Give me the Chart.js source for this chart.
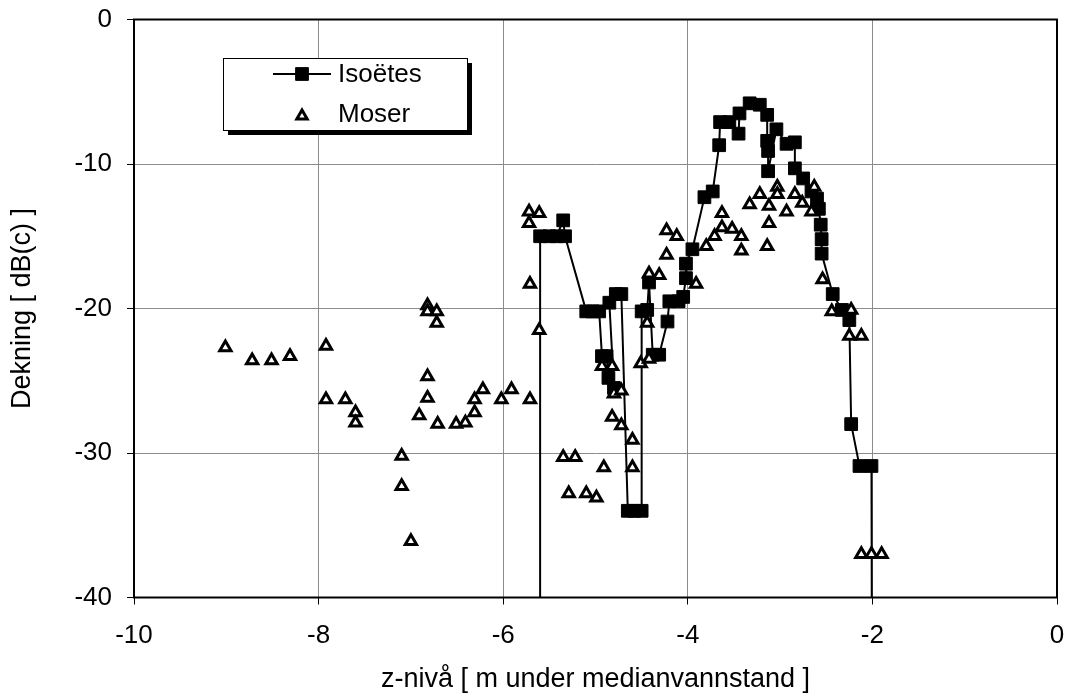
<!DOCTYPE html>
<html>
<head>
<meta charset="utf-8">
<script src="https://cdn.jsdelivr.net/npm/chart.js@4.4.1/dist/chart.umd.min.js"></script>
<style>
html,body{margin:0;padding:0;background:#fff;}
#wrap{position:relative;width:1067px;height:699px;}
</style>
</head>
<body>
<div id="wrap"><canvas id="c" width="1067" height="699"></canvas></div>
<script>
// ---- data ----
const xTickValues = [-10, -8, -6, -4, -2, 0];
const yTickValues = [-40, -30, -20, -10, 0];

const seriesNames = ['Isoëtes', 'Moser'];

const isoX = [-5.60, -5.60, -5.50, -5.42, -5.35, -5.33, -5.10, -5.03, -4.96, -4.93, -4.88, -4.86, -4.80, -4.85, -4.78, -4.72,
  -4.65, -4.58, -4.50, -4.50, -4.44, -4.42, -4.38, -4.31, -4.22, -4.20, -4.10, -4.05, -4.02, -4.02, -3.95,
  -3.82, -3.73, -3.66, -3.65, -3.55, -3.45, -3.44, -3.33, -3.22, -3.14, -3.14, -3.13, -3.13, -3.04, -2.93,
  -2.84, -2.84, -2.75, -2.66, -2.60, -2.58, -2.56, -2.55, -2.55, -2.43, -2.33, -2.25, -2.23, -2.14, -2.01, -2.00];
const isoY = [-60, -15.0, -15.0, -15.0, -13.9, -15.0, -20.2, -20.2, -20.2, -23.3, -23.3, -24.8, -25.5, -19.6, -19.0, -19.0,
  -34.0, -34.0, -34.0, -20.2, -20.1, -18.2, -23.2, -23.2, -20.9, -19.5, -19.5, -19.2, -17.9, -16.9, -15.9,
  -12.3, -11.9, -8.7, -7.1, -7.1, -7.9, -6.5, -5.8, -5.9, -6.6, -8.4, -9.1, -10.5, -7.6, -8.6,
  -8.5, -10.3, -11.0, -11.9, -12.4, -13.1, -14.2, -15.2, -16.2, -19.0, -20.1, -20.8, -28.0, -30.9, -30.9, -60];

const moserX = [-9.01, -8.72, -8.51, -8.31, -7.92, -7.92, -7.71, -7.60, -7.60, -7.10, -7.10, -7.00,
  -6.91, -6.82, -6.82, -6.82, -6.82, -6.72, -6.72, -6.71, -6.51, -6.41, -6.31, -6.31, -6.22, -6.02, -5.91,
  -5.71, -5.71, -5.61, -5.72, -5.61, -5.72, -5.35, -5.22, -5.29, -5.10, -4.99, -4.91,
  -4.93, -4.82, -4.80, -4.72, -4.82, -4.72, -4.60, -4.60, -4.51, -4.42, -4.44, -4.42, -4.31, -4.23, -4.23, -4.12,
  -3.91, -3.80, -3.71, -3.63, -3.63, -3.52, -3.42, -3.42, -3.33, -3.22, -3.12, -3.12, -3.03, -3.03, -3.14,
  -2.93, -2.84, -2.76, -2.66, -2.63, -2.54, -2.44, -2.23, -2.25, -2.12, -2.12, -2.01, -1.90];
const moserY = [-22.7, -23.6, -23.6, -23.3, -22.6, -26.3, -26.3, -27.2, -27.9, -30.2, -32.3, -36.1,
  -27.4, -24.7, -26.2, -19.8, -20.2, -20.2, -21.0, -28.0, -28.0, -27.9, -27.2, -26.3, -25.6, -26.3, -25.6,
  -26.3, -18.3, -21.5, -13.3, -13.4, -14.1, -30.3, -30.3, -32.8, -32.8, -33.1, -31.0,
  -24.0, -24.0, -25.9, -25.7, -27.5, -28.1, -29.1, -31.0, -23.8, -23.5, -21.0, -17.6, -17.7, -16.3, -14.6, -15.0,
  -18.3, -15.7, -15.0, -13.4, -14.4, -14.5, -15.0, -16.0, -12.8, -12.1, -12.9, -14.1, -11.6, -12.1, -15.7,
  -13.3, -12.1, -12.7, -13.3, -11.6, -18.0, -20.2, -20.1, -21.9, -21.9, -37.0, -37.0, -37.0];

const xTitle = 'z-nivå [ m under medianvannstand ]';
const yTitle = 'Dekning [ dB(c) ]';

// ---- build ----
const isoData = isoX.map((x, i) => ({x, y: isoY[i]}));
const moserData = moserX.map((x, i) => ({x, y: moserY[i]}));

const FONT = 'Liberation Sans, Arial, sans-serif';

const framePlugin = {
  id: 'frame',
  beforeDatasetsDraw(chart) {
    const {ctx, chartArea: a} = chart;
    ctx.save();
    ctx.strokeStyle = '#000';
    ctx.lineWidth = 2;
    ctx.strokeRect(a.left, a.top, a.right - a.left, a.bottom - a.top);
    ctx.restore();
  }
};

const legendPlugin = {
  id: 'boxLegend',
  afterDraw(chart) {
    const {ctx} = chart;
    const bx = 223, by = 58, bw = 244, bh = 72;
    ctx.save();
    ctx.fillStyle = '#000';
    ctx.fillRect(bx + 5, by + 5, bw, bh);
    ctx.fillStyle = '#fff';
    ctx.fillRect(bx, by, bw, bh);
    ctx.strokeStyle = '#000';
    ctx.lineWidth = 1;
    ctx.strokeRect(bx + 0.5, by + 0.5, bw, bh);
    const rows = [74, 114];
    chart.data.datasets.forEach((ds, i) => {
      const y = rows[i];
      if (ds.showLine) {
        ctx.strokeStyle = ds.borderColor;
        ctx.lineWidth = 2;
        ctx.beginPath();
        ctx.moveTo(273, y);
        ctx.lineTo(331, y);
        ctx.stroke();
      }
      ctx.fillStyle = ds.pointBackgroundColor;
      ctx.strokeStyle = ds.pointBorderColor;
      ctx.lineWidth = ds.pointBorderWidth;
      Chart.helpers.drawPoint(ctx, {pointStyle: ds.pointStyle, radius: ds.pointStyle === 'triangle' ? 6 : ds.pointRadius, borderWidth: ds.pointBorderWidth, rotation: 0}, 302, y + (ds.pointStyle === 'triangle' ? 2 : 0));
      ctx.fillStyle = '#000';
      ctx.font = '26px ' + FONT;
      ctx.textBaseline = 'middle';
      ctx.textAlign = 'left';
      ctx.fillText(ds.label, 338, y + 1);
    });
    ctx.restore();
  }
};

new Chart(document.getElementById('c'), {
  type: 'scatter',
  data: {
    datasets: [
      {
        label: seriesNames[0],
        data: isoData,
        showLine: true,
        borderColor: '#000',
        borderWidth: 2,
        pointStyle: 'rect',
        pointRadius: 9,
        pointBackgroundColor: '#000',
        pointBorderColor: '#000',
        pointBorderWidth: 1,
        tension: 0,
        order: 1
      },
      {
        label: seriesNames[1],
        data: moserData,
        showLine: false,
        borderColor: '#000',
        pointStyle: 'triangle',
        pointRadius: 6.5,
        pointBackgroundColor: '#fff',
        pointBorderColor: '#000',
        pointBorderWidth: 3,
        order: 0
      }
    ]
  },
  options: {
    responsive: false,
    animation: false,
    devicePixelRatio: 1,
    layout: {padding: {left: 0, right: 10, top: 19.5, bottom: 0}},
    plugins: {legend: {display: false}, tooltip: {enabled: false}},
    scales: {
      x: {
        type: 'linear',
        min: -10, max: 0,
        afterBuildTicks: s => { s.ticks = xTickValues.map(v => ({value: v})); },
        afterFit: s => { s.height = 101.5; s.paddingLeft = 0; s.paddingRight = 0; },
        grid: {color: '#8c8c8c', lineWidth: 1, tickLength: 7, tickColor: '#000', drawTicks: true},
        border: {display: false},
        ticks: {color: '#000', font: {family: FONT, size: 26}, padding: 16, maxRotation: 0,
          callback: v => String(v)},
        title: {display: true, text: xTitle, color: '#000', font: {family: FONT, size: 27}, padding: {top: 0, bottom: 3}}
      },
      y: {
        type: 'linear',
        min: -40, max: 0,
        afterBuildTicks: s => { s.ticks = yTickValues.map(v => ({value: v})); },
        afterFit: s => { s.width = 134; s.paddingTop = 0; s.paddingBottom = 0; },
        grid: {color: '#8c8c8c', lineWidth: 1, tickLength: 7, tickColor: '#000', drawTicks: true},
        border: {display: false},
        ticks: {color: '#000', font: {family: FONT, size: 26}, padding: 15,
          callback: v => String(v)},
        title: {display: true, text: yTitle, color: '#000', font: {family: FONT, size: 27}, padding: {top: 6, bottom: 0}}
      }
    }
  },
  plugins: [framePlugin, legendPlugin]
});
</script>
</body>
</html>
